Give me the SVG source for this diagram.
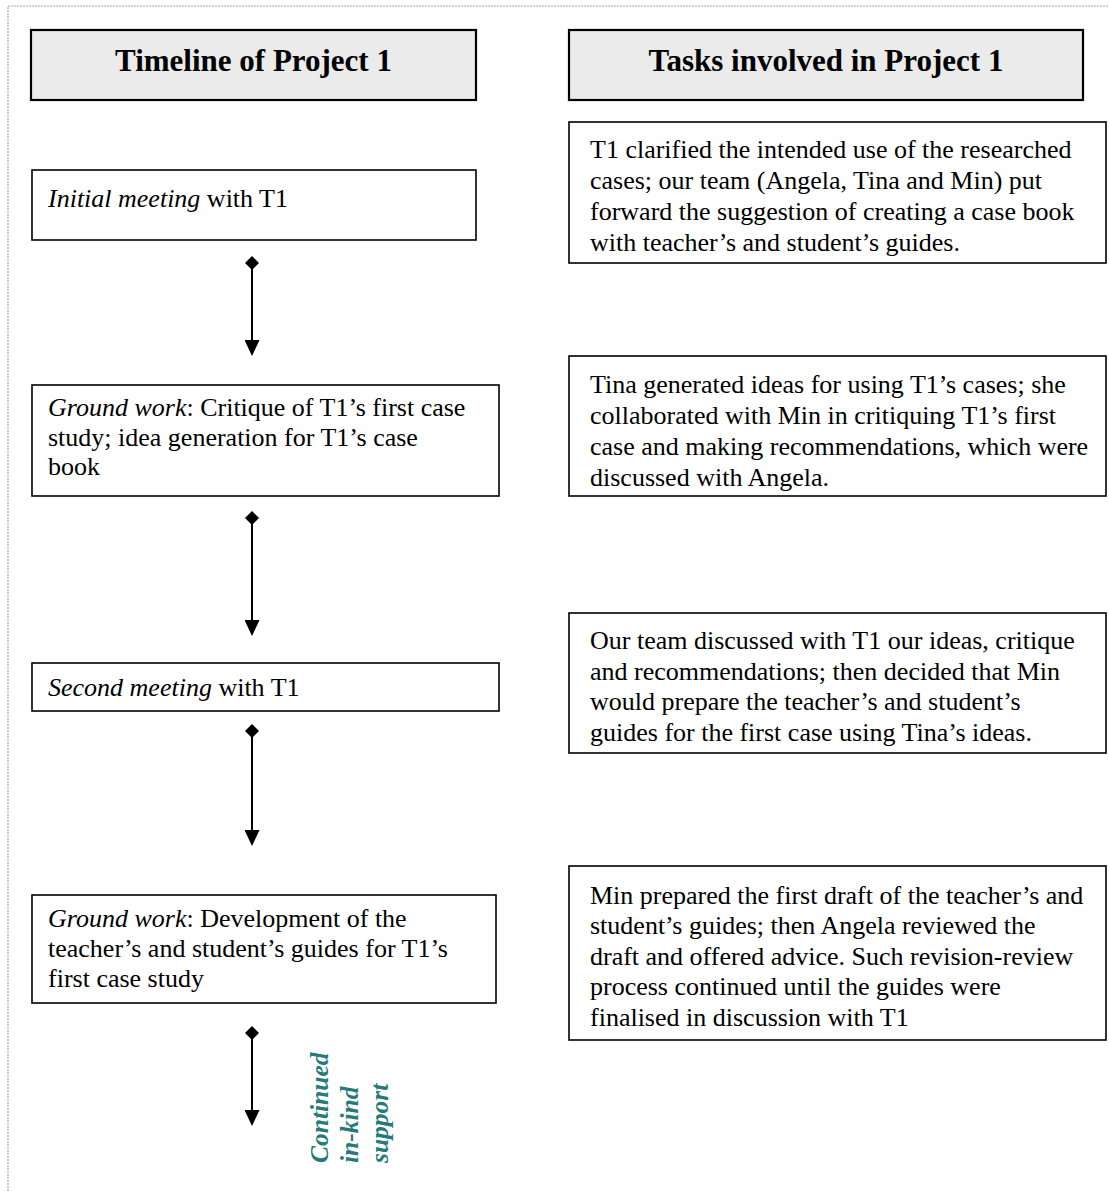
<svg xmlns="http://www.w3.org/2000/svg" width="1109" height="1191" viewBox="0 0 1109 1191">
<defs>
<style>
.frame{fill:none;stroke:#a8a8a8;stroke-width:1.2;stroke-dasharray:2 1}
.hdr{fill:#ebebeb;stroke:#000;stroke-width:2.2}
.box{fill:#fff;stroke:#000;stroke-width:1.6}
.ht{font-family:"Liberation Serif",serif;font-weight:bold;font-size:31px;text-anchor:middle;fill:#000}
.t{font-family:"Liberation Serif",serif;font-size:26px;fill:#000}
.i{font-style:italic}
.side{font-family:"Liberation Serif",serif;font-weight:bold;font-style:italic;font-size:25.5px;fill:#267a78}
.conn{stroke:#000;stroke-width:2;fill:none}
</style>
<marker id="dia" viewBox="0 0 14 14" refX="7" refY="7" markerWidth="14" markerHeight="14" markerUnits="userSpaceOnUse" orient="auto">
<path d="M0,7 L7,0 L14,7 L7,14 Z" fill="#000"/>
</marker>
<marker id="arr" viewBox="0 0 15 16" refX="7.5" refY="1" markerWidth="15" markerHeight="16" markerUnits="userSpaceOnUse" orient="0">
<path d="M0,0 L15,0 L7.5,16 Z" fill="#000"/>
</marker>
</defs>
<rect width="1109" height="1191" fill="#fff"/>
<path class="frame" d="M8,1191 V6 H1109"/>

<g id="header-timeline">
<rect class="hdr" x="31" y="30" width="445" height="70"/>
<text class="ht" x="253.5" y="71">Timeline of Project 1</text>
</g>
<g id="header-tasks">
<rect class="hdr" x="569" y="30" width="514" height="70"/>
<text class="ht" x="826" y="71">Tasks involved in Project 1</text>
</g>

<g id="timeline-1">
<rect class="box" x="32" y="170" width="444" height="70"/>
<text class="t" x="48" y="207"><tspan class="i">Initial meeting</tspan> with T1</text>
</g>
<g id="timeline-2">
<rect class="box" x="32" y="385" width="467" height="111"/>
<text class="t" x="48" y="416"><tspan class="i">Ground work</tspan>: Critique of T1’s first case</text>
<text class="t" x="48" y="446">study; idea generation for T1’s case</text>
<text class="t" x="48" y="475">book</text>
</g>
<g id="timeline-3">
<rect class="box" x="32" y="663" width="467" height="48"/>
<text class="t" x="48" y="696"><tspan class="i">Second meeting</tspan> with T1</text>
</g>
<g id="timeline-4">
<rect class="box" x="32" y="895" width="464" height="108"/>
<text class="t" x="48" y="927"><tspan class="i">Ground work</tspan>: Development of the</text>
<text class="t" x="48" y="957">teacher’s and student’s guides for T1’s</text>
<text class="t" x="48" y="987">first case study</text>
</g>

<g id="task-1">
<rect class="box" x="569" y="122" width="537" height="141"/>
<text class="t" x="590" y="158">T1 clarified the intended use of the researched</text>
<text class="t" x="590" y="189">cases; our team (Angela, Tina and Min) put</text>
<text class="t" x="590" y="220">forward the suggestion of creating a case book</text>
<text class="t" x="590" y="251">with teacher’s and student’s guides.</text>
</g>
<g id="task-2">
<rect class="box" x="569" y="356" width="537" height="140"/>
<text class="t" x="590" y="393">Tina generated ideas for using T1’s cases; she</text>
<text class="t" x="590" y="424">collaborated with Min in critiquing T1’s first</text>
<text class="t" x="590" y="455">case and making recommendations, which were</text>
<text class="t" x="590" y="486">discussed with Angela.</text>
</g>
<g id="task-3">
<rect class="box" x="569" y="613" width="537" height="140"/>
<text class="t" x="590" y="649">Our team discussed with T1 our ideas, critique</text>
<text class="t" x="590" y="680">and recommendations; then decided that Min</text>
<text class="t" x="590" y="710">would prepare the teacher’s and student’s</text>
<text class="t" x="590" y="741">guides for the first case using Tina’s ideas.</text>
</g>
<g id="task-4">
<rect class="box" x="569" y="866" width="537" height="174"/>
<text class="t" x="590" y="904">Min prepared the first draft of the teacher’s and</text>
<text class="t" x="590" y="934">student’s guides; then Angela reviewed the</text>
<text class="t" x="590" y="965">draft and offered advice. Such revision-review</text>
<text class="t" x="590" y="995">process continued until the guides were</text>
<text class="t" x="590" y="1026">finalised in discussion with T1</text>
</g>

<g id="connectors">
<line class="conn" x1="252" y1="263" x2="252" y2="341" marker-start="url(#dia)" marker-end="url(#arr)"/>
<line class="conn" x1="252" y1="518" x2="252" y2="621" marker-start="url(#dia)" marker-end="url(#arr)"/>
<line class="conn" x1="252" y1="731" x2="252" y2="831" marker-start="url(#dia)" marker-end="url(#arr)"/>
<line class="conn" x1="252" y1="1033" x2="252" y2="1111" marker-start="url(#dia)" marker-end="url(#arr)"/>
</g>

<g id="continued-label">
<text class="side" transform="translate(328,1163) rotate(-90)">Continued</text>
<text class="side" transform="translate(358,1163) rotate(-90)">in-kind</text>
<text class="side" transform="translate(388,1163) rotate(-90)">support</text>
</g>
</svg>
